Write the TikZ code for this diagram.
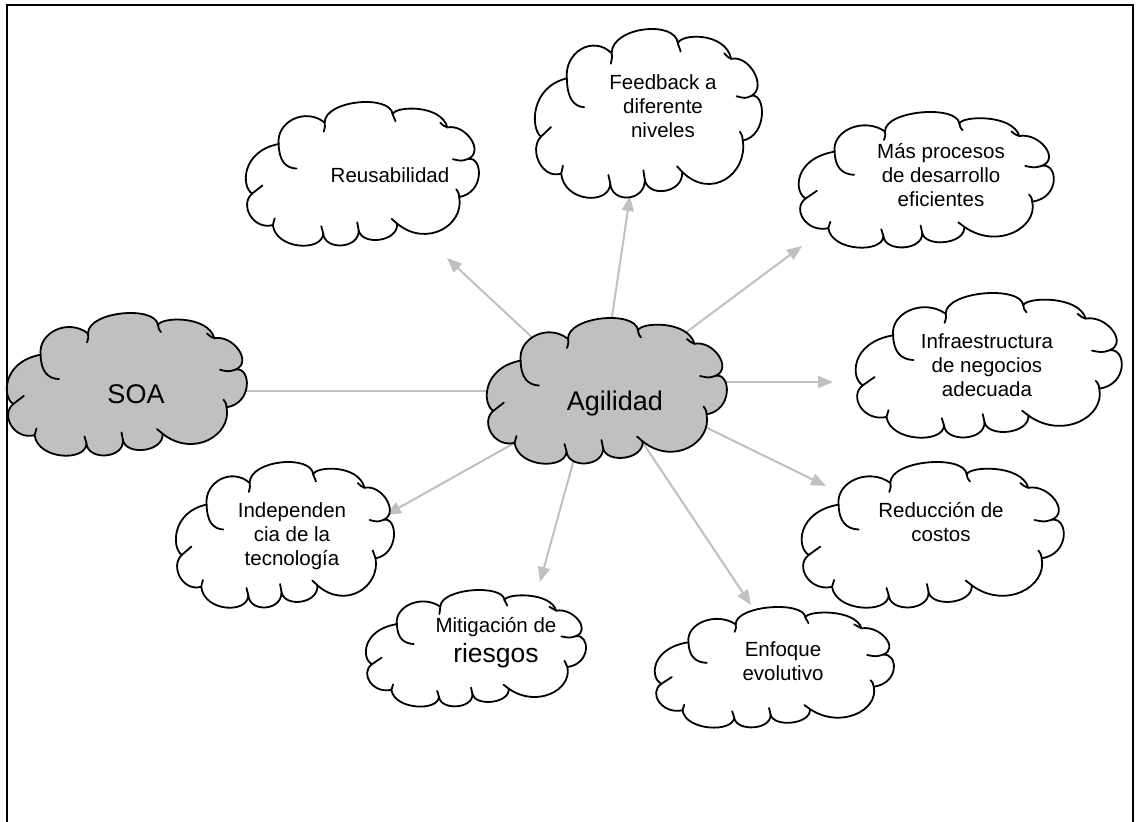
\documentclass[tikz,border=0pt]{standalone}
\usepackage{fontspec}
\setmainfont{Liberation Sans}
\usetikzlibrary{arrows.meta,calc}

\pgfdeclarelayer{links}
\pgfdeclarelayer{shapes}
\pgfsetlayers{links,shapes,main}

\definecolor{cloudgray}{RGB}{192,192,192}
\definecolor{linkgray}{RGB}{192,192,192}

% cloud outline in a 240 x 145 frame, y pointing down
\newcommand\cloudouter{(5.3,92.9)
 .. controls (-6,86) and (-6,50) .. (32.6,42.6)
 .. controls (30,20) and (60,5) .. (80,20.9)
 .. controls (80,-2) and (148,-8) .. (150,12.5)
 .. controls (152,4) and (200,2) .. (206.4,25.8)
 .. controls (225,22) and (245,50) .. (227.8,57.7)
 .. controls (243,55) and (245,92) .. (218.6,96.3)
 .. controls (224,125) and (185,148) .. (154.6,123.3)
 .. controls (156,142) and (118,146) .. (115,129.9)
 .. controls (116,149) and (80,151) .. (78.5,133.3)
 .. controls (78,152) and (30,150) .. (26.6,124.8)
 .. controls (6,130) and (-8,104) .. (5.3,92.9)
 -- cycle}

% short inner strokes where the puffs meet
\newcommand\cloudinner{(32.6,42.6) .. controls (33,60) and (40,67) .. (51,67.5)
 (80,20.9) .. controls (80.5,25) .. (79,30)
 (150,12.5) .. controls (150.5,16) .. (153,19.5)
 (206.4,25.8) .. controls (203,24.5) .. (199,21)
 (227.8,57.7) .. controls (221,60) .. (212,58)
 (218.6,96.3) .. controls (218,92) .. (215.5,88.5)
 (154.6,123.3) .. controls (152,121) .. (149,118.5)
 (115,129.9) .. controls (114.5,126) .. (113.5,122)
 (78.5,133.3) .. controls (78,130) .. (76.5,126)
 (26.6,124.8) .. controls (27,121.5) .. (28.5,118)
 (5.3,92.9) .. controls (10,88.5) .. (15.9,84.6)}

% \cloud{name}{left}{top}{width}{height}{fill}
\newcommand\cloud[6]{%
  \node[cloudnode, minimum width=#4pt, minimum height=#5pt] (#1) at ({#2+#4/2},{#3+#5/2}) {};
  \begin{pgfonlayer}{shapes}
    \begin{scope}[shift={(#2,#3)}, xscale=#4/240, yscale=#5/145]
      \filldraw[cloudline, fill=#6] \cloudouter;
      \draw[cloudline] \cloudinner;
    \end{scope}
  \end{pgfonlayer}}

\newcommand\stack[1]{\begin{tabular}[t]{@{}c@{}}#1\end{tabular}}

\begin{document}
\begin{tikzpicture}[x=1pt, y=1pt, yscale=-1,
    cloudnode/.style={rectangle, inner sep=0pt, outer sep=0pt},
    cloudline/.style={draw=black, line width=1.8pt, line join=round, line cap=round},
    txt/.style={inner sep=0pt, anchor=base, text=black, font=\fontsize{20.5}{24}\selectfont},
    bigtxt/.style={txt, font=\fontsize{27}{32}\selectfont},
    link/.style={draw=linkgray, line width=2pt},
    arrowlink/.style={link, -{Triangle[length=15pt, width=12pt]}, fill=linkgray},
    frame/.style={draw=black, line width=2.2pt}]

\useasboundingbox (0,0) rectangle (1138,822);

% page frame (open at the bottom)
\draw[frame] (7,822) -- (7,5) -- (1133,5) -- (1133,822);

% clouds
\cloud{soa}{8}{313}{240}{142}{cloudgray}
\cloud{ag}{488}{318}{240}{145}{cloudgray}
\cloud{reu}{247}{102}{233}{143}{white}
\cloud{fb}{536}{29}{227}{168}{white}
\cloud{mp}{800}{112}{255}{135}{white}
\cloud{inf}{857}{293}{266}{144}{white}
\cloud{red}{803}{462}{262}{145}{white}
\cloud{enf}{656}{607}{239}{120}{white}
\cloud{mit}{367}{590}{220}{116}{white}
\cloud{ind}{177}{462}{218}{145}{white}

% labels
\node[bigtxt] (soaText) at (136,403) {SOA};
\node[bigtxt] (agText) at (615,410) {Agilidad};
\node[txt] (reuText) at (390,182) {Reusabilidad};
\node[txt] (fbText) at (663,89) {\stack{Feedback a\\diferente\\niveles}};
\node[txt] (mpText) at (941,158) {\stack{Más procesos\\de desarrollo\\eficientes}};
\node[txt] (infText) at (987,348) {\stack{Infraestructura\\de negocios\\adecuada}};
\node[txt] (redText) at (941,517) {\stack{Reducción de\\costos}};
\node[txt] (enfText) at (783,656) {\stack{Enfoque\\evolutivo}};
\node[txt] (mitText) at (496,632) {\stack{Mitigación de\\[4pt]{\fontsize{26.5}{30}\selectfont riesgos}}};
\node[txt] (indText) at (292,517) {\stack{Independen\\cia de la\\tecnología}};

% arrow tips, each just short of its cloud
\coordinate (reuTip) at (447,258);
\coordinate (fbTip) at (630,196);
\coordinate (mpTip) at (802,246);
\coordinate (infTip) at (833,382);
\coordinate (redTip) at (826,486);
\coordinate (enfTip) at (751,605);
\coordinate (mitTip) at (540,582);
\coordinate (indTip) at (386,515);

% connectors, drawn beneath the clouds
\begin{pgfonlayer}{links}
  \draw[link] (soa.center |- ag.center) -- (ag.center);
  \draw[arrowlink] ($(ag.center)+(-19,0)$) -- (reuTip);
  \draw[arrowlink] ($(ag.center)+(-7,0)$) -- (fbTip);
  \draw[arrowlink] (ag.center) -- (mpTip);
  \draw[arrowlink] (ag.center |- infTip) -- (infTip);
  \draw[arrowlink] ($(ag.center)+(0,-11)$) -- (redTip);
  \draw[arrowlink] (ag.center) -- (enfTip);
  \draw[arrowlink] ($(ag.center)+(-15,0)$) -- (mitTip);
  \draw[arrowlink] (ag.center) -- (indTip);
\end{pgfonlayer}
\end{tikzpicture}
\end{document}
